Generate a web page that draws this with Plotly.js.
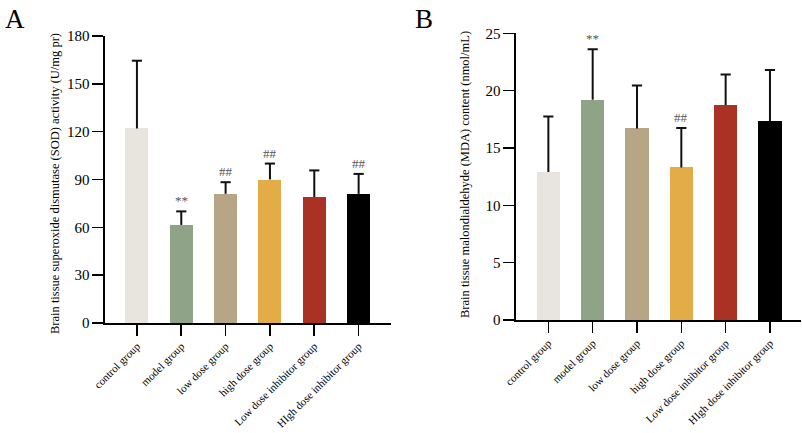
<!DOCTYPE html>
<html>
<head>
<meta charset="utf-8">
<script src="https://cdn.plot.ly/plotly-3.0.1.min.js"></script>
<style>html,body{margin:0;padding:0;background:#fff}#chart{width:802px;height:433px}</style>
</head>
<body>
<div id="chart"></div>
<script>
const categories = ["control group","model group","low dose group","high dose group","Low dose inhibitor group","HIgh dose inhibitor group"];
const colors = ["#E8E5DF","#8FA487","#B6A686","#E4AC46","#A93224","#000000"];
const sodMean = [122, 61.5, 81, 90, 79, 81];
const sodErr = [42.5, 8.5, 7.3, 10, 16.7, 12.5];
const sodMarks = ["", "**", "##", "##", "", "##"];
const mdaMean = [12.9, 19.2, 16.7, 13.3, 18.75, 17.35];
const mdaErr = [4.85, 4.4, 3.75, 3.45, 2.65, 4.45];
const mdaMarks = ["", "**", "", "##", "", ""];

const serif = "Liberation Serif, Times New Roman, serif";
const xIdx = categories.map((c,i)=>i);
const capHalf = 0.115;

// upper-only error bars (stem from bar top + cap), built from the data arrays
function errTrace(mean, err, xa, ya){
  const xs = [], ys = [];
  mean.forEach((m,i)=>{
    const top = m + err[i];
    xs.push(i, i, null, i-capHalf, i+capHalf, null);
    ys.push(m, top, null, top, top, null);
  });
  return {
    type: "scatter", mode: "lines", x: xs, y: ys, xaxis: xa, yaxis: ya,
    line: {color: "#111", width: 2}, connectgaps: false, cliponaxis: false,
    showlegend: false, hoverinfo: "skip"
  };
}
function barTrace(mean, xa, ya){
  return {
    type: "bar", x: xIdx, y: mean, xaxis: xa, yaxis: ya,
    width: 0.52,
    marker: {color: colors, line: {width: 0}},
    showlegend: false, hoverinfo: "skip"
  };
}

const annotations = [];
function addMarks(marks, mean, err, xref, yref, offset){
  marks.forEach((m,i)=>{
    if(!m) return;
    annotations.push({x: i, y: mean[i]+err[i], xref: xref, yref: yref, text: m,
      showarrow: false, yanchor: "bottom", yshift: offset,
      font: {family: serif, size: 13, color: "#555"}});
  });
}
addMarks(sodMarks, sodMean, sodErr, "x", "y", 1);
addMarks(mdaMarks, mdaMean, mdaErr, "x2", "y2", 1);

annotations.push({text: "A", x: 3/802, y: 1-2/433, xref: "paper", yref: "paper", xanchor: "left", yanchor: "top", showarrow: false, font: {family: serif, size: 27, color: "#000"}});
annotations.push({text: "B", x: 413/802, y: 1-2/433, xref: "paper", yref: "paper", xanchor: "left", yanchor: "top", showarrow: false, font: {family: serif, size: 27, color: "#000"}});
annotations.push({text: "Brain tissue superoxide dismutase (SOD) activity (U/mg pr)", x: 46/802, y: 1-184/433, xref: "paper", yref: "paper", textangle: -90, showarrow: false, font: {family: serif, size: 12.5, color: "#000"}});
annotations.push({text: "Brain tissue malondialdehyde (MDA) content (nmol/mL)", x: 465/802, y: 1-175/433, xref: "paper", yref: "paper", textangle: -90, showarrow: false, font: {family: serif, size: 12.5, color: "#000"}});

const xCommon = {
  tickmode: "array", tickvals: xIdx, ticktext: categories, tickangle: -45,
  ticks: "outside", ticklen: 11, tickwidth: 1.6, tickcolor: "#000",
  showline: true, linecolor: "#000", linewidth: 1.6, showgrid: false, zeroline: false,
  tickfont: {family: serif, size: 11, color: "#000"}, fixedrange: true
};
const yCommon = {
  ticks: "outside", ticklen: 11, tickwidth: 1.6, tickcolor: "#000",
  showline: true, linecolor: "#000", linewidth: 1.6, showgrid: false, zeroline: false,
  tickfont: {family: serif, size: 15, color: "#000"}, fixedrange: true
};

const layout = {
  width: 802, height: 433,
  margin: {l: 0, r: 0, t: 0, b: 0},
  paper_bgcolor: "#fff", plot_bgcolor: "#fff",
  bargap: 0,
  xaxis: Object.assign({}, xCommon, {domain: [105/802, 391/802], range: [-0.72, 5.73], anchor: "y"}),
  yaxis: Object.assign({}, yCommon, {domain: [110/433, 397/433], range: [0, 180], tickvals: [0,30,60,90,120,150,180], anchor: "x"}),
  xaxis2: Object.assign({}, xCommon, {domain: [516/802, 801/802], range: [-0.73, 5.70], anchor: "y2"}),
  yaxis2: Object.assign({}, yCommon, {domain: [113/433, 399.7/433], range: [0, 25], tickvals: [0,5,10,15,20,25], anchor: "x2"}),
  annotations: annotations
};

Plotly.newPlot("chart", [
  barTrace(sodMean, "x", "y"), errTrace(sodMean, sodErr, "x", "y"),
  barTrace(mdaMean, "x2", "y2"), errTrace(mdaMean, mdaErr, "x2", "y2")
], layout, {displayModeBar: false, staticPlot: true});
</script>
</body>
</html>
